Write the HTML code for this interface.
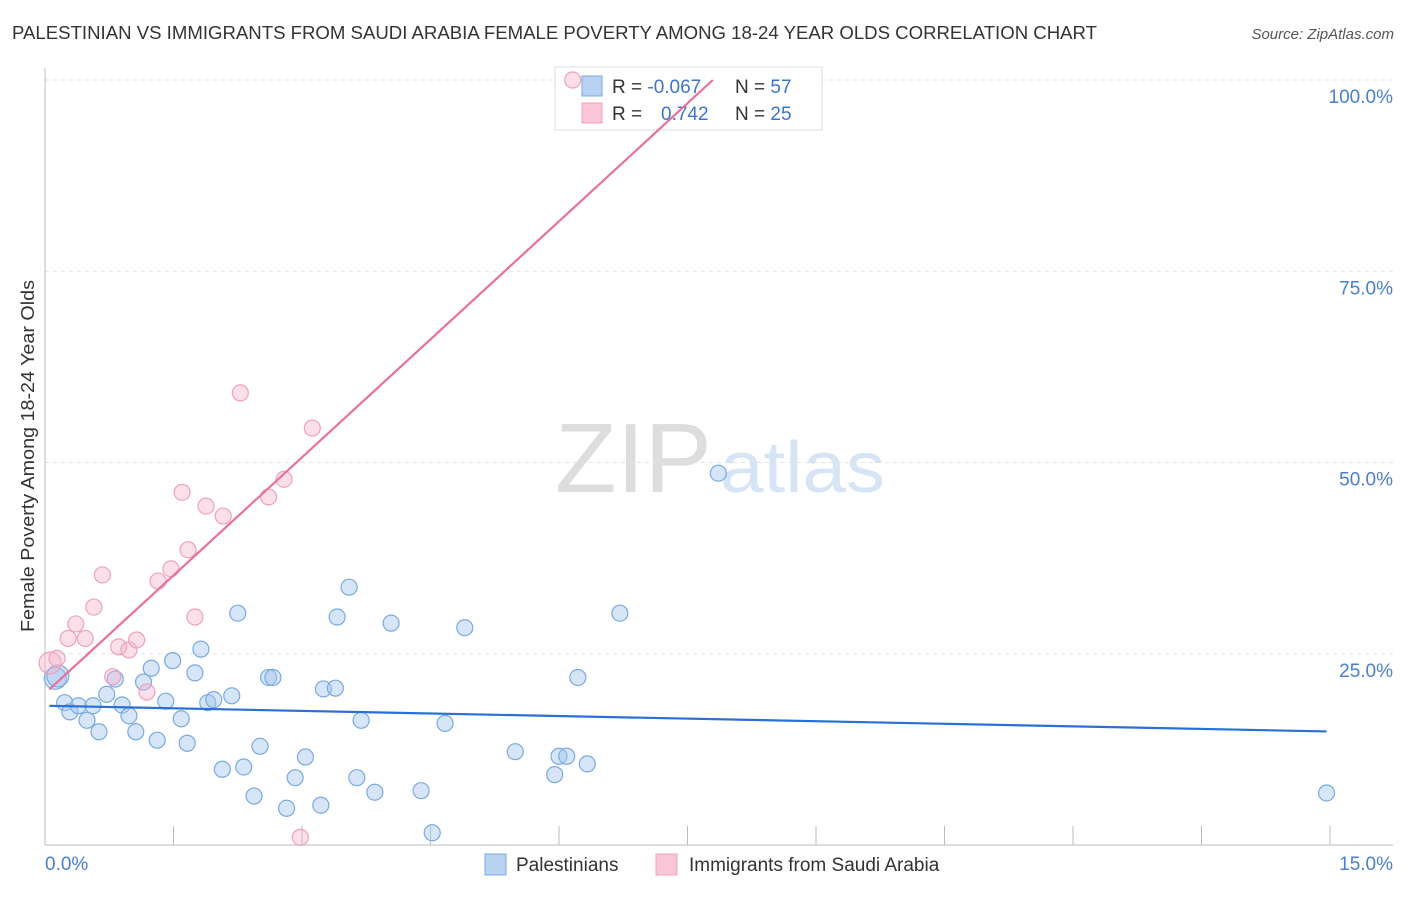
<!DOCTYPE html>
<html><head><meta charset="utf-8">
<style>
body{margin:0;background:#fff;font-family:"Liberation Sans",sans-serif;}
svg text{font-family:"Liberation Sans",sans-serif;}
</style></head>
<body>
<svg id="chart" width="1406" height="892" xmlns="http://www.w3.org/2000/svg">
<text x="12" y="39" font-size="18" fill="#333" textLength="1085" lengthAdjust="spacingAndGlyphs">PALESTINIAN VS IMMIGRANTS FROM SAUDI ARABIA FEMALE POVERTY AMONG 18-24 YEAR OLDS CORRELATION CHART</text>
<text x="1394" y="39" font-size="15" fill="#555" text-anchor="end" font-style="italic">Source: ZipAtlas.com</text>
<text x="712" y="492" font-size="98" fill="#ddd" text-anchor="end" font-family="Liberation Serif" textLength="157" lengthAdjust="spacingAndGlyphs">ZIP</text>
<text x="720" y="492" font-size="72" fill="#d6e4f6" textLength="165" lengthAdjust="spacingAndGlyphs">atlas</text>
<g id="grid"></g>
<g id="axes"></g>
<text transform="translate(34,456) rotate(-90)" font-size="18" fill="#333" text-anchor="middle" textLength="352" lengthAdjust="spacingAndGlyphs">Female Poverty Among 18-24 Year Olds</text>
<g>
<rect x="555" y="67" width="267" height="63" fill="#fff" stroke="#ddd"/>
<rect x="582" y="76" width="20" height="20" fill="#b8d2f4" stroke="#7aaae0"/>
<text x="612" y="93" font-size="19" fill="#333">R = <tspan fill="#3c74cc">-0.067</tspan></text>
<text x="735" y="93" font-size="19" fill="#333">N = <tspan fill="#3c74cc">57</tspan></text>
<rect x="582" y="103" width="20" height="20" fill="#f8c6d6" stroke="#f0a0bc"/>
<text x="612" y="120" font-size="19" fill="#333">R = </text>
<text x="661" y="120" font-size="19" fill="#3c74cc">0.742</text>
<text x="735" y="120" font-size="19" fill="#333">N = <tspan fill="#3c74cc">25</tspan></text>
</g>
<g id="marks"></g>
<g>
<rect x="485" y="854" width="21" height="21" fill="#b8d2f4" stroke="#7aaae0"/>
<text x="516" y="871" font-size="19" fill="#333">Palestinians</text>
<rect x="656" y="854" width="21" height="21" fill="#f8c6d6" stroke="#f0a0bc"/>
<text x="689" y="871" font-size="19" fill="#333">Immigrants from Saudi Arabia</text>
</g>
</svg>
<script>
const yTicks=[25,50,75,100];
const yTickLabels=["25.0%","50.0%","75.0%","100.0%"];
const xTickCount=10;
const blueX=[0.12,0.15,0.23,0.29,0.39,0.49,0.56,0.63,0.72,0.82,0.90,0.98,1.06,1.15,1.24,1.31,1.41,1.49,1.59,1.66,1.75,1.82,1.90,1.97,2.07,2.18,2.25,2.32,2.44,2.51,2.61,2.66,2.82,2.92,3.04,3.22,3.25,3.39,3.41,3.55,3.64,3.69,3.85,4.04,4.39,4.52,4.67,4.90,5.49,5.95,6.00,6.09,6.22,6.33,6.71,7.86,14.96];
const blueY=[21.8,22.1,18.6,17.4,18.2,16.3,18.2,14.8,19.7,21.7,18.3,16.9,14.8,21.3,23.1,13.7,18.8,24.1,16.5,13.3,22.5,25.6,18.6,19.0,9.9,19.5,30.3,10.2,6.4,12.9,21.9,21.9,4.8,8.8,11.5,5.2,20.4,20.5,29.8,33.7,8.8,16.3,6.9,29.0,7.1,1.6,15.9,28.4,12.2,9.2,11.6,11.6,21.9,10.6,30.3,48.6,6.8];
const pinkX=[0.06,0.14,0.27,0.36,0.47,0.57,0.67,0.79,0.86,0.98,1.07,1.19,1.32,1.47,1.60,1.67,1.75,1.88,2.08,2.28,2.61,2.79,2.98,3.12,6.16];
const pinkY=[23.8,24.4,27.0,28.9,27.0,31.1,35.3,22.0,25.9,25.5,26.8,20.0,34.5,36.1,46.1,38.6,29.8,44.3,43.0,59.1,45.5,47.8,1.0,54.5,100.0];
const X0=45,X1=1330,Y0=845,Y100=80,XMAX=15;
const xs=v=>X0+v/XMAX*(X1-X0);
const ys=v=>Y0-v/100*(Y0-Y100);
const NS="http://www.w3.org/2000/svg";
function mk(tag,attrs,parent){const e=document.createElementNS(NS,tag);for(const k in attrs)e.setAttribute(k,attrs[k]);parent.appendChild(e);return e;}
const grid=document.getElementById('grid'),axes=document.getElementById('axes'),marks=document.getElementById('marks');
yTicks.forEach((t,i)=>{
 const g=mk('line',{x1:X0,x2:1393,y1:ys(t),y2:ys(t),stroke:'#e2e2e2','stroke-dasharray':'4,4'},grid);
 
 
 const tx=mk('text',{x:1393,y:ys(t)+23,'font-size':19,fill:'#4a7fd0','text-anchor':'end'},axes);
 tx.textContent=yTickLabels[i];
 
 
});
const ya=mk('line',{x1:X0,x2:X0,y1:68,y2:Y0,stroke:'#bbb'},axes);


const xa=mk('line',{x1:X0,x2:1393,y1:Y0,y2:Y0,stroke:'#bbb'},axes);


for(let i=1;i<=xTickCount;i++){
 const v=i*XMAX/xTickCount;
 const t=mk('line',{x1:xs(v),x2:xs(v),y1:Y0-19,y2:Y0,stroke:'#bbb'},axes);
 
 
}
const xl0=mk('text',{x:45,y:870,'font-size':19,fill:'#4a7fd0'},axes);xl0.textContent='0.0%';


const xl1=mk('text',{x:1393,y:870,'font-size':19,fill:'#4a7fd0','text-anchor':'end'},axes);xl1.textContent='15.0%';


function reg(X,Y){const n=X.length;let mx=0,my=0;for(let i=0;i<n;i++){mx+=X[i];my+=Y[i];}mx/=n;my/=n;let sxy=0,sxx=0;for(let i=0;i<n;i++){sxy+=(X[i]-mx)*(Y[i]-my);sxx+=(X[i]-mx)**2;}const b=sxy/sxx;return [b,my-b*mx];}
blueX.forEach((x,i)=>{
 const c=mk('circle',{cx:xs(x),cy:ys(blueY[i]),r:i<2?11:8,fill:'rgba(165,198,240,0.45)',stroke:'#7aaae0','stroke-width':1.2},marks);
 
 
});
pinkX.forEach((x,i)=>{
 const c=mk('circle',{cx:xs(x),cy:ys(pinkY[i]),r:i<1?11:8,fill:'rgba(246,178,202,0.4)',stroke:'#f0a0bc','stroke-width':1.2},marks);
 
 
});
let [b1,a1]=reg(blueX,blueY);
const bl=mk('line',{x1:xs(0.05),y1:ys(a1+b1*0.05),x2:xs(14.96),y2:ys(a1+b1*14.96),stroke:'#2a6fd6','stroke-width':2.2},marks);


let [b2,a2]=reg(pinkX,pinkY);
let xe=Math.min(XMAX,(100-a2)/b2);
const pl=mk('line',{x1:xs(0.05),y1:ys(a2+b2*0.05),x2:xs(xe),y2:ys(a2+b2*xe),stroke:'#e8709a','stroke-width':2.2},marks);


</script>
</body></html>
